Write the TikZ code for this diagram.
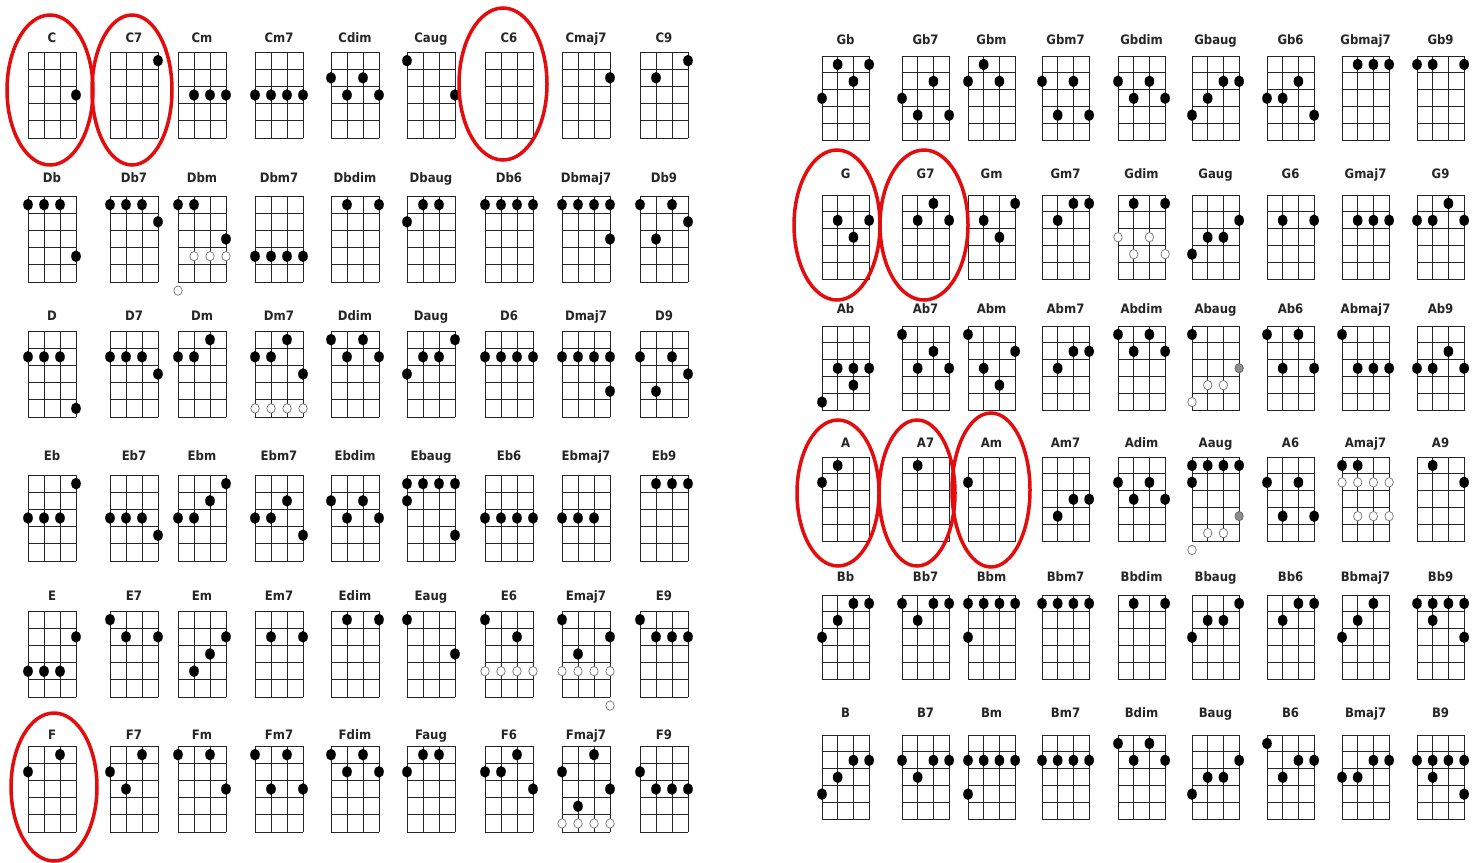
\documentclass[tikz,border=0pt]{standalone}
\usepackage{fontspec}
\setmainfont{DejaVu Sans Condensed}

\definecolor{ringred}{RGB}{228,12,12}
\tikzset{
  fretline/.style={line width=1pt, draw=black!85},
  fingerdot/.style={fill=black},
  opendot/.style={draw=black!55, fill=white, line width=0.7pt},
  greydot/.style={draw=black!60, fill=black!45, line width=0.7pt},
  chordname/.style={font=\bfseries\fontsize{13}{15}\selectfont, text=black!85, anchor=base, inner sep=0pt},
  redring/.style={draw=ringred, line width=3.5pt}
}

% one chord box: #1 left edge, #2 name, #3 string/fret list
\newcommand{\ukechord}[3]{%
  \coordinate (#2) at (#1,\ukrowtop);
  \node[chordname] (#2-lbl) at ({#1+1.5*\ukw},\ukrowlab) {#2};
  \foreach \i in {0,...,3}
    \draw[fretline] ({#1+\i*\ukw},\ukrowtop) -- ({#1+\i*\ukw},{\ukrowtop+5*\ukh});
  \foreach \j in {0,...,5}
    \draw[fretline] (#1,{\ukrowtop+\j*\ukh}) -- ({#1+3*\ukw},{\ukrowtop+\j*\ukh});
  \if\relax\detokenize{#3}\relax\else
    \foreach \s/\f in {#3}
      \fill[fingerdot] ({#1+(\s-1)*\ukw},{\ukrowtop+(\f-0.5)*\ukh}) ellipse (4.8 and 5.8);
  \fi}
% hollow or grey marks on a chord box already drawn
\newcommand{\ukextra}[3]{%
  \foreach \s/\f in {#3}
    \path[#2] ([shift={({(\s-1)*\ukw},{(\f-0.5)*\ukh})}]#1) ellipse (4.2 and 4.7);}

\begin{document}
\begin{tikzpicture}[x=1pt, y=-1pt]
  \useasboundingbox[fill=white] (0,0) rectangle (1475,862);

  % ---- left half: C to F
  \def\ukw{16}\def\ukh{17.2}
  \def\ukrowtop{52}\def\ukrowlab{42}
  \ukechord{28}{C}{4/3}
  \ukechord{110}{C7}{4/1}
  \ukechord{178}{Cm}{2/3,3/3,4/3}
  \ukechord{255}{Cm7}{1/3,2/3,3/3,4/3}
  \ukechord{331}{Cdim}{1/2,3/2,2/3,4/3}
  \ukechord{407}{Caug}{1/1,4/3}
  \ukechord{485}{C6}{}
  \ukechord{562}{Cmaj7}{4/2}
  \ukechord{640}{C9}{4/1,2/2}

  \def\ukrowtop{196}\def\ukrowlab{182}
  \ukechord{28}{Db}{1/1,2/1,3/1,4/4}
  \ukechord{110}{Db7}{1/1,2/1,3/1,4/2}
  \ukechord{178}{Dbm}{1/1,2/1,4/3}
  \ukextra{Dbm}{opendot}{2/4,3/4,4/4,1/6}
  \ukechord{255}{Dbm7}{1/4,2/4,3/4,4/4}
  \ukechord{331}{Dbdim}{2/1,4/1}
  \ukechord{407}{Dbaug}{2/1,3/1,1/2}
  \ukechord{485}{Db6}{1/1,2/1,3/1,4/1}
  \ukechord{562}{Dbmaj7}{1/1,2/1,3/1,4/1,4/3}
  \ukechord{640}{Db9}{1/1,3/1,4/2,2/3}

  \def\ukrowtop{331}\def\ukrowlab{320}
  \ukechord{28}{D}{1/2,2/2,3/2,4/5}
  \ukechord{110}{D7}{1/2,2/2,3/2,4/3}
  \ukechord{178}{Dm}{1/2,2/2,3/1}
  \ukechord{255}{Dm7}{1/2,2/2,3/1,4/3}
  \ukextra{Dm7}{opendot}{1/5,2/5,3/5,4/5}
  \ukechord{331}{Ddim}{1/1,3/1,2/2,4/2}
  \ukechord{407}{Daug}{4/1,2/2,3/2,1/3}
  \ukechord{485}{D6}{1/2,2/2,3/2,4/2}
  \ukechord{562}{Dmaj7}{1/2,2/2,3/2,4/2,4/4}
  \ukechord{640}{D9}{1/2,3/2,4/3,2/4}

  \def\ukrowtop{475}\def\ukrowlab{460}
  \ukechord{28}{Eb}{4/1,1/3,2/3,3/3}
  \ukechord{110}{Eb7}{1/3,2/3,3/3,4/4}
  \ukechord{178}{Ebm}{4/1,3/2,1/3,2/3}
  \ukechord{255}{Ebm7}{3/2,1/3,2/3,4/4}
  \ukechord{331}{Ebdim}{1/2,3/2,2/3,4/3}
  \ukechord{407}{Ebaug}{1/1,2/1,3/1,4/1,1/2,4/4}
  \ukechord{485}{Eb6}{1/3,2/3,3/3,4/3}
  \ukechord{562}{Ebmaj7}{1/3,2/3,3/3}
  \ukechord{640}{Eb9}{2/1,3/1,4/1}

  \def\ukrowtop{611}\def\ukrowlab{600}
  \ukechord{28}{E}{4/2,1/4,2/4,3/4}
  \ukechord{110}{E7}{1/1,2/2,4/2}
  \ukechord{178}{Em}{4/2,3/3,2/4}
  \ukechord{255}{Em7}{2/2,4/2}
  \ukechord{331}{Edim}{2/1,4/1}
  \ukechord{407}{Eaug}{1/1,4/3}
  \ukechord{485}{E6}{1/1,3/2}
  \ukextra{E6}{opendot}{1/4,2/4,3/4,4/4}
  \ukechord{562}{Emaj7}{1/1,4/2,2/3}
  \ukextra{Emaj7}{opendot}{1/4,2/4,3/4,4/4,4/6}
  \ukechord{640}{E9}{1/1,2/2,3/2,4/2}

  \def\ukrowtop{746}\def\ukrowlab{739}
  \ukechord{28}{F}{3/1,1/2}
  \ukechord{110}{F7}{3/1,1/2,2/3}
  \ukechord{178}{Fm}{1/1,3/1,4/3}
  \ukechord{255}{Fm7}{1/1,3/1,2/3,4/3}
  \ukechord{331}{Fdim}{1/1,3/1,2/2,4/2}
  \ukechord{407}{Faug}{2/1,3/1,1/2}
  \ukechord{485}{F6}{3/1,1/2,2/2,4/3}
  \ukechord{562}{Fmaj7}{3/1,1/2,4/3,2/4}
  \ukextra{Fmaj7}{opendot}{1/5,2/5,3/5,4/5}
  \ukechord{640}{F9}{1/2,2/3,3/3,4/3}

  % ---- right half: Gb to B
  \def\ukw{15.7}\def\ukh{16.9}
  \def\ukrowtop{56}\def\ukrowlab{44}
  \ukechord{822}{Gb}{2/1,4/1,3/2,1/3}
  \ukechord{902}{Gb7}{3/2,1/3,2/4,4/4}
  \ukechord{968}{Gbm}{2/1,1/2,3/2}
  \ukechord{1042}{Gbm7}{1/2,3/2,2/4,4/4}
  \ukechord{1118}{Gbdim}{1/2,3/2,2/3,4/3}
  \ukechord{1192}{Gbaug}{3/2,4/2,2/3,1/4}
  \ukechord{1267}{Gb6}{3/2,1/3,2/3,4/4}
  \ukechord{1342}{Gbmaj7}{2/1,3/1,4/1}
  \ukechord{1417}{Gb9}{1/1,2/1,4/1}

  \def\ukrowtop{195}\def\ukrowlab{178}
  \ukechord{822}{G}{2/2,4/2,3/3}
  \ukechord{902}{G7}{3/1,2/2,4/2}
  \ukechord{968}{Gm}{4/1,2/2,3/3}
  \ukechord{1042}{Gm7}{3/1,4/1,2/2}
  \ukechord{1118}{Gdim}{2/1,4/1}
  \ukextra{Gdim}{opendot}{1/3,3/3,2/4,4/4}
  \ukechord{1192}{Gaug}{4/2,2/3,3/3,1/4}
  \ukechord{1267}{G6}{2/2,4/2}
  \ukechord{1342}{Gmaj7}{2/2,3/2,4/2}
  \ukechord{1417}{G9}{3/1,1/2,2/2,4/2}

  \def\ukrowtop{326}\def\ukrowlab{313}
  \ukechord{822}{Ab}{2/3,3/3,4/3,3/4,1/5}
  \ukechord{902}{Ab7}{1/1,3/2,2/3,4/3}
  \ukechord{968}{Abm}{1/1,4/2,2/3,3/4}
  \ukechord{1042}{Abm7}{3/2,4/2,2/3}
  \ukechord{1118}{Abdim}{1/1,3/1,2/2,4/2}
  \ukechord{1192}{Abaug}{1/1}
  \ukextra{Abaug}{greydot}{4/3}
  \ukextra{Abaug}{opendot}{2/4,3/4,1/5}
  \ukechord{1267}{Ab6}{1/1,3/1,2/3,4/3}
  \ukechord{1342}{Abmaj7}{1/1,2/3,3/3,4/3}
  \ukechord{1417}{Ab9}{3/2,1/3,2/3,4/3}

  \def\ukrowtop{457}\def\ukrowlab{447}
  \ukechord{822}{A}{2/1,1/2}
  \ukechord{902}{A7}{2/1}
  \ukechord{968}{Am}{1/2}
  \ukechord{1042}{Am7}{3/3,4/3,2/4}
  \ukechord{1118}{Adim}{1/2,3/2,2/3,4/3}
  \ukechord{1192}{Aaug}{1/1,2/1,3/1,4/1,1/2}
  \ukextra{Aaug}{greydot}{4/4}
  \ukextra{Aaug}{opendot}{2/5,3/5,1/6}
  \ukechord{1267}{A6}{1/2,3/2,2/4,4/4}
  \ukechord{1342}{Amaj7}{1/1,2/1}
  \ukextra{Amaj7}{opendot}{1/2,2/2,3/2,4/2,2/4,3/4,4/4}
  \ukechord{1417}{A9}{2/1,4/2}

  \def\ukrowtop{595}\def\ukrowlab{581}
  \ukechord{822}{Bb}{3/1,4/1,2/2,1/3}
  \ukechord{902}{Bb7}{1/1,3/1,4/1,2/2}
  \ukechord{968}{Bbm}{1/1,2/1,3/1,4/1,1/3}
  \ukechord{1042}{Bbm7}{1/1,2/1,3/1,4/1}
  \ukechord{1118}{Bbdim}{2/1,4/1}
  \ukechord{1192}{Bbaug}{4/1,2/2,3/2,1/3}
  \ukechord{1267}{Bb6}{3/1,4/1,2/2}
  \ukechord{1342}{Bbmaj7}{3/1,2/2,1/3}
  \ukechord{1417}{Bb9}{1/1,2/1,3/1,4/1,2/2,4/3}

  \def\ukrowtop{735}\def\ukrowlab{717}
  \ukechord{822}{B}{3/2,4/2,2/3,1/4}
  \ukechord{902}{B7}{1/2,3/2,4/2,2/3}
  \ukechord{968}{Bm}{1/2,2/2,3/2,4/2,1/4}
  \ukechord{1042}{Bm7}{1/2,2/2,3/2,4/2}
  \ukechord{1118}{Bdim}{1/1,3/1,2/2,4/2}
  \ukechord{1192}{Baug}{4/2,2/3,3/3,1/4}
  \ukechord{1267}{B6}{1/1,3/2,4/2,2/3}
  \ukechord{1342}{Bmaj7}{3/2,4/2,1/3,2/3}
  \ukechord{1417}{B9}{1/2,2/2,3/2,4/2,2/3,4/4}

  % red rings round the marked chords
  \draw[redring] (50,90) ellipse (43 and 75);
  \draw[redring] (132,90) ellipse (40 and 75);
  \draw[redring] (503,84) ellipse (44 and 76);
  \draw[redring] (54,787) ellipse (43 and 74);
  \draw[redring] (837,225) ellipse (43 and 75);
  \draw[redring] (924,225) ellipse (44 and 75);
  \draw[redring] (838,493) ellipse (41 and 73);
  \draw[redring] (917,493) ellipse (38 and 73);
  \draw[redring] (991,490) ellipse (39 and 77);
\end{tikzpicture}
\end{document}
